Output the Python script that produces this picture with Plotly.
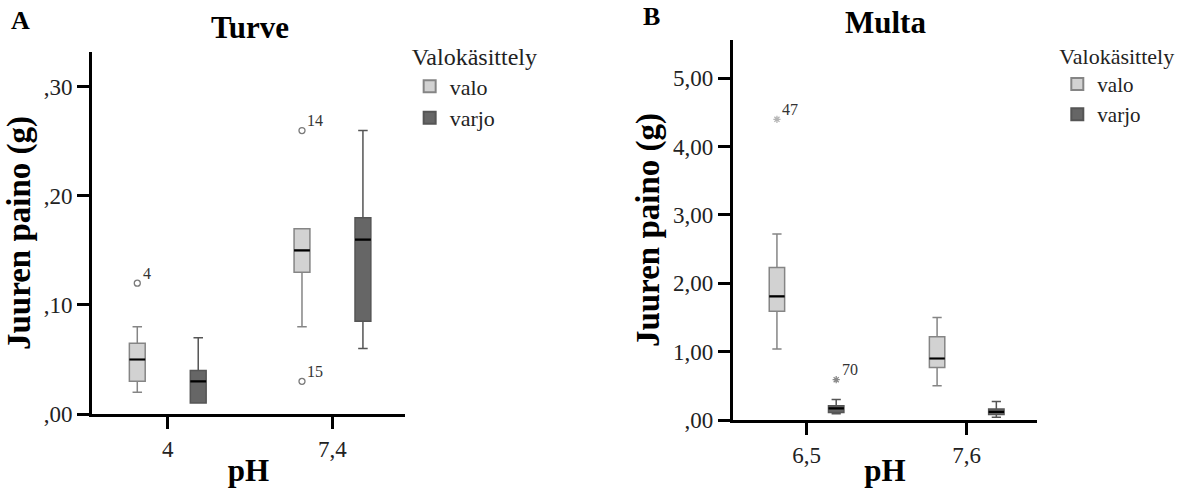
import plotly.graph_objects as go

# ---------------- data ----------------
turve_ph = ["4", "7,4"]
turve_valo_low = [0.02, 0.08]
turve_valo_q1 = [0.03, 0.13]
turve_valo_med = [0.05, 0.15]
turve_valo_q3 = [0.065, 0.17]
turve_valo_high = [0.08, 0.17]
turve_varjo_low = [0.01, 0.06]
turve_varjo_q1 = [0.01, 0.085]
turve_varjo_med = [0.03, 0.16]
turve_varjo_q3 = [0.04, 0.18]
turve_varjo_high = [0.07, 0.26]
turve_out_x = ["4", "7,4", "7,4"]
turve_out_y = [0.12, 0.26, 0.03]
turve_out_lab = ["4", "14", "15"]

multa_ph = ["6,5", "7,6"]
multa_valo_low = [1.04, 0.50]
multa_valo_q1 = [1.59, 0.77]
multa_valo_med = [1.81, 0.90]
multa_valo_q3 = [2.23, 1.22]
multa_valo_high = [2.72, 1.50]
multa_varjo_low = [0.09, 0.04]
multa_varjo_q1 = [0.11, 0.08]
multa_varjo_med = [0.17, 0.12]
multa_varjo_q3 = [0.21, 0.16]
multa_varjo_high = [0.30, 0.27]
multa_out_valo_x = ["6,5"]
multa_out_valo_y = [4.40]
multa_out_valo_lab = ["47"]
multa_out_varjo_x = ["6,5"]
multa_out_varjo_y = [0.59]
multa_out_varjo_lab = ["70"]

turve_ticks = [0, 0.1, 0.2, 0.3]
turve_ticktext = [",00", ",10", ",20", ",30"]
multa_ticks = [0, 1, 2, 3, 4, 5]
multa_ticktext = [",00", "1,00", "2,00", "3,00", "4,00", "5,00"]

# ---------------- styles ----------------
SERIF = "Liberation Serif, Times New Roman, serif"
VALO_FILL, VALO_LINE = "#d2d2d2", "#858585"
VARJO_FILL, VARJO_LINE = "#666666", "#555555"

fig = go.Figure()


def add_panel(xa, ya, cats, valo, varjo, legend):
    for name, st, fill, line in [("valo", valo, VALO_FILL, VALO_LINE),
                                 ("varjo", varjo, VARJO_FILL, VARJO_LINE)]:
        low, q1, med, q3, high = st
        fig.add_trace(go.Box(
            name=name, x=cats, lowerfence=low, q1=q1, median=med, q3=q3,
            upperfence=high, xaxis=xa, yaxis=ya, offsetgroup=name,
            fillcolor=fill, line=dict(color=line, width=1.5),
            whiskerwidth=0.6, boxpoints=False, legend=legend,
            hoverinfo="skip"))
    for name, st in [("valo", valo), ("varjo", varjo)]:
        med = st[2]
        fig.add_trace(go.Box(
            name=name, x=cats, lowerfence=med, q1=med, median=med, q3=med,
            upperfence=med, xaxis=xa, yaxis=ya, offsetgroup=name,
            fillcolor="rgba(0,0,0,0)", line=dict(color="black", width=2.2),
            whiskerwidth=0.6, boxpoints=False, showlegend=False,
            hoverinfo="skip"))


def add_outliers(xa, ya, group, xs, ys, symbol, color, size):
    fig.add_trace(go.Box(
        x=xs, y=ys, xaxis=xa, yaxis=ya, offsetgroup=group, name=group,
        boxpoints="all", jitter=0, pointpos=0,
        fillcolor="rgba(0,0,0,0)", line=dict(color="rgba(0,0,0,0)", width=0),
        marker=dict(symbol=symbol, size=size, color=color,
                    line=dict(color=color, width=1.3)),
        showlegend=False, hoverinfo="skip"))


add_panel("x", "y", turve_ph,
          (turve_valo_low, turve_valo_q1, turve_valo_med, turve_valo_q3, turve_valo_high),
          (turve_varjo_low, turve_varjo_q1, turve_varjo_med, turve_varjo_q3, turve_varjo_high),
          "legend")
add_panel("x2", "y2", multa_ph,
          (multa_valo_low, multa_valo_q1, multa_valo_med, multa_valo_q3, multa_valo_high),
          (multa_varjo_low, multa_varjo_q1, multa_varjo_med, multa_varjo_q3, multa_varjo_high),
          "legend2")

add_outliers("x", "y", "valo", turve_out_x, turve_out_y, "circle-open", "#7a7a7a", 6)
add_outliers("x2", "y2", "valo", multa_out_valo_x, multa_out_valo_y, "asterisk-open", "#b5b5b5", 6)
add_outliers("x2", "y2", "varjo", multa_out_varjo_x, multa_out_varjo_y, "asterisk-open", "#8a8a8a", 6)

annotations = []
for cats, xs, ys, labs, xa, ya, off in [
        (turve_ph, turve_out_x, turve_out_y, turve_out_lab, "x", "y", -30),
        (multa_ph, multa_out_valo_x, multa_out_valo_y, multa_out_valo_lab, "x2", "y2", -30),
        (multa_ph, multa_out_varjo_x, multa_out_varjo_y, multa_out_varjo_lab, "x2", "y2", 30)]:
    for xv, yv, lab in zip(xs, ys, labs):
        annotations.append(dict(x=cats.index(xv), y=yv, xref=xa, yref=ya, text=lab,
                                showarrow=False, xanchor="left", yanchor="middle",
                                xshift=off + 3, yshift=10,
                                font=dict(family=SERIF, size=16, color="#333333")))

for txt, x, y in [("A", 0.008, 0.958), ("B", 0.541, 0.966)]:
    annotations.append(dict(text="<b>%s</b>" % txt, x=x, y=y, xref="paper", yref="paper",
                            xanchor="left", yanchor="middle", showarrow=False,
                            font=dict(family=SERIF, size=26, color="black")))
for txt, x, y in [("Turve", 0.211, 0.944), ("Multa", 0.7475, 0.954)]:
    annotations.append(dict(text="<b>%s</b>" % txt, x=x, y=y, xref="paper", yref="paper",
                            xanchor="center", yanchor="middle", showarrow=False,
                            font=dict(family=SERIF, size=31, color="black")))

tickfont = dict(family=SERIF, size=23, color="#222222")


def xaxis(domain, cats, anchor):
    return dict(domain=domain, anchor=anchor, type="category", categoryorder="array",
                categoryarray=cats, range=[-0.46, 1.44], showline=True,
                linewidth=3, linecolor="black", ticks="outside", ticklen=12,
                tickwidth=3, tickcolor="black", tickfont=tickfont,
                showgrid=False, zeroline=False, fixedrange=True, automargin=False,
                title=dict(text="<b>pH</b>", font=dict(family=SERIF, size=31, color="black"),
                           standoff=0))


def yaxis(domain, rng, tv, tt, anchor):
    return dict(domain=domain, anchor=anchor, range=rng, tickvals=tv, ticktext=tt,
                showline=True, linewidth=3, linecolor="black",
                ticks="outside", ticklen=12, tickwidth=3, tickcolor="black",
                tickfont=tickfont, showgrid=False, zeroline=False, automargin=False,
                fixedrange=True,
                title=dict(text="<b>Juuren paino (g)</b>",
                           font=dict(family=SERIF, size=33, color="black"), standoff=4))


def legend_style(title_size, item_size):
    return dict(xanchor="left", yanchor="top", bgcolor="rgba(0,0,0,0)",
                font=dict(family=SERIF, size=item_size, color="#222222"),
                title=dict(text="Valokäsittely",
                           font=dict(family=SERIF, size=title_size, color="#222222")),
                tracegroupgap=0, itemsizing="constant")


fig.update_layout(
    width=1184, height=488,
    margin=dict(l=0, r=0, t=0, b=0),
    paper_bgcolor="white", plot_bgcolor="white",
    boxmode="group", boxgap=0.26, boxgroupgap=0.74,
    xaxis=xaxis([0.0777, 0.342], turve_ph, "y"),
    yaxis=yaxis([0.1516, 0.8934], [0, 0.332], turve_ticks, turve_ticktext, "x"),
    xaxis2=xaxis([0.619, 0.876], multa_ph, "y2"),
    yaxis2=yaxis([0.1393, 0.918], [0, 5.56], multa_ticks, multa_ticktext, "x2"),
    legend=dict(x=0.346, y=0.930, **legend_style(24, 22)),
    legend2=dict(x=0.893, y=0.928, **legend_style(22, 21)),
    annotations=annotations,
    showlegend=True,
)

fig.write_html("out.html",
               config={"displayModeBar": False},
               post_script="document.body.style.margin='0px';"
                           "document.body.style.overflow='hidden';")
